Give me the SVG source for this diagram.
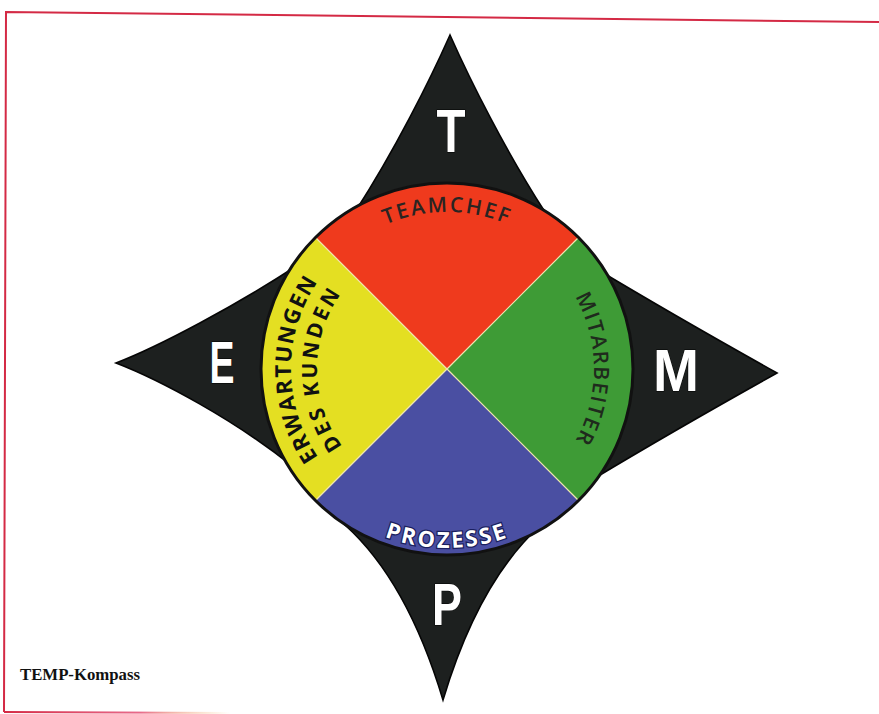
<svg xmlns="http://www.w3.org/2000/svg" width="879" height="714" viewBox="0 0 879 714">
<style>
.frame{fill:none;stroke:#d42a45;stroke-width:2}
.star{fill:#1d201f;stroke:#050505;stroke-width:1.6;stroke-linejoin:miter}
.big{font-family:"Liberation Sans",Arial,sans-serif;font-weight:700;fill:#ffffff;stroke:#000;stroke-width:1;paint-order:stroke;text-anchor:middle}
.arc{font-family:"Open Sans","Liberation Sans",sans-serif;text-anchor:middle}
.sep{stroke:#efe6b0;stroke-width:1.2}
</style>
<defs>
<path id="pTop" d="M290,369 A157,157 0 0,1 604,369"/>
<path id="pRight" d="M447,222 A147,147 0 0,1 447,516"/>
<path id="pLeftOut" d="M447,525 A156,156 0 0,1 447,213"/>
<path id="pLeftIn" d="M447,499 A130,130 0 0,1 447,239"/>
<path id="pBottom" d="M268,369 A179,179 0 0,0 626,369"/>
<linearGradient id="gBot" x1="0" x2="1" y1="0" y2="0">
<stop offset="0" stop-color="#d42a45"/>
<stop offset="0.6" stop-color="#e86a8a"/>
<stop offset="1" stop-color="#f5c060" stop-opacity="0"/>
</linearGradient>
</defs>
<rect width="879" height="714" fill="#ffffff"/>
<g id="frame">
<path class="frame" d="M879,22 L6,12 L4,712"/>
<path d="M4,712 L230,713" stroke="url(#gBot)" stroke-width="2" fill="none"/>
</g>
<g id="star">
<path class="star" d="M450,35 C470,80 505,150 545,212 L447,369 L595,268 C640,295 700,330 777,373 C700,416 640,451 595,478 L447,369 L541,525 C491,570 461,640 443,700 C425,640 395,570 345,525 L447,369 L292,466 C235,420 160,380 116,363 C160,346 235,306 298,265 L447,369 L355,212 C395,150 430,80 450,35 Z"/>
</g>
<g id="compass">
<path d="M447,369 L315.5,237.5 A186,186 0 0,1 578.5,237.5 Z" fill="#ef3a1d"/>
<path d="M447,369 L578.5,237.5 A186,186 0 0,1 578.5,500.5 Z" fill="#3e9b36"/>
<path d="M447,369 L578.5,500.5 A186,186 0 0,1 315.5,500.5 Z" fill="#4a4fa2"/>
<path d="M447,369 L315.5,500.5 A186,186 0 0,1 315.5,237.5 Z" fill="#e4df22"/>
<line class="sep" x1="447" y1="369" x2="315.5" y2="237.5"/>
<line class="sep" x1="447" y1="369" x2="578.5" y2="237.5"/>
<line class="sep" x1="447" y1="369" x2="578.5" y2="500.5"/>
<line class="sep" x1="447" y1="369" x2="315.5" y2="500.5"/>
<circle cx="447" cy="369" r="186" fill="none" stroke="#111" stroke-width="3"/>
</g>
<g id="node-T"><text class="big" x="451" y="152" font-size="61" textLength="29" lengthAdjust="spacingAndGlyphs">T</text></g>
<g id="node-E"><text class="big" x="222" y="383" font-size="60" textLength="25" lengthAdjust="spacingAndGlyphs">E</text></g>
<g id="node-M"><text class="big" x="676" y="391" font-size="60" textLength="46" lengthAdjust="spacingAndGlyphs">M</text></g>
<g id="node-P"><text class="big" x="447" y="625" font-size="60" textLength="30" lengthAdjust="spacingAndGlyphs">P</text></g>
<g id="labels">
<text class="arc" font-size="21" font-weight="600" fill="#2a2422" letter-spacing="2.2"><textPath href="#pTop" startOffset="50%">TEAMCHEF</textPath></text>
<text class="arc" font-size="21" font-weight="600" fill="#1f2a1d" letter-spacing="1.6"><textPath href="#pRight" startOffset="50%">MITARBEITER</textPath></text>
<text class="arc" font-size="22" font-weight="700" fill="#111" letter-spacing="1.5"><textPath href="#pLeftOut" startOffset="50%">ERWARTUNGEN</textPath></text>
<text class="arc" font-size="21" font-weight="700" fill="#111" letter-spacing="3"><textPath href="#pLeftIn" startOffset="50%">DES KUNDEN</textPath></text>
<text class="arc" font-size="22" font-weight="700" fill="#ffffff" stroke="#1a1f5e" stroke-width="2.5" paint-order="stroke" letter-spacing="2.5"><textPath href="#pBottom" startOffset="50%">PROZESSE</textPath></text>
</g>
<g id="caption"><text x="20" y="680" font-family="Liberation Serif,serif" font-weight="700" font-size="16" fill="#111" textLength="120" lengthAdjust="spacingAndGlyphs">TEMP-Kompass</text></g>
</svg>
